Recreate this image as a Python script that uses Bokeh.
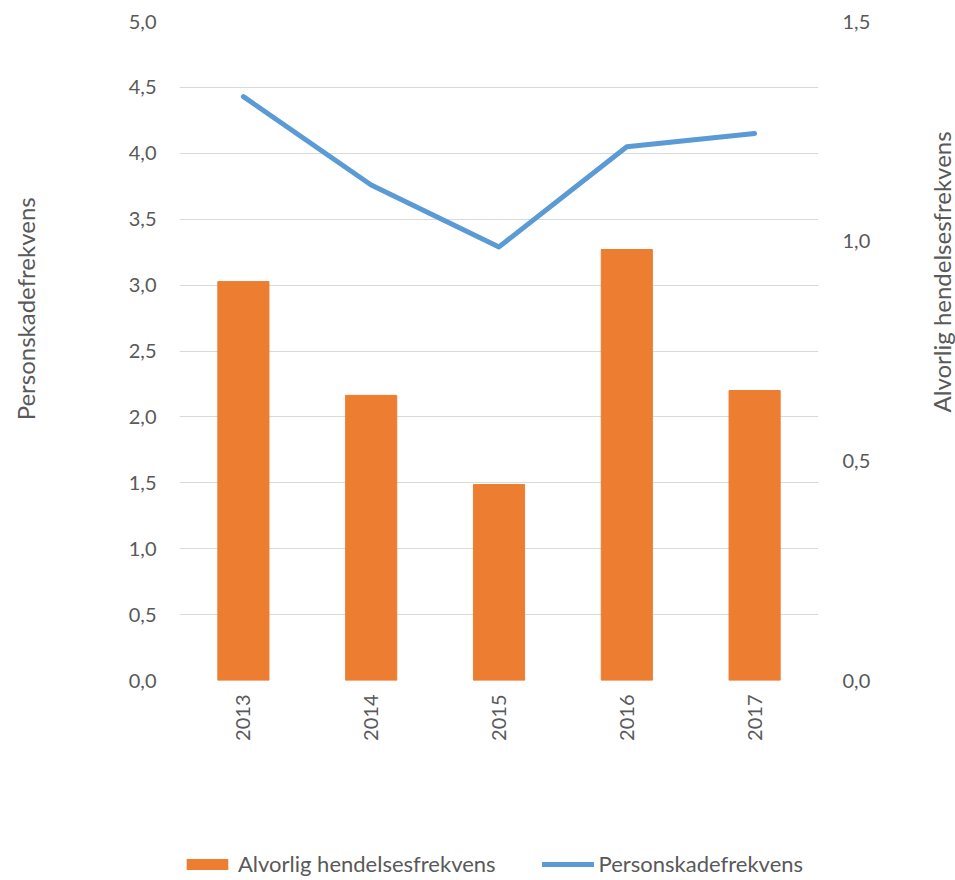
import math
from bokeh.plotting import figure
from bokeh.layouts import column, row
from bokeh.models import (Range1d, FactorRange, LinearAxis, FixedTicker, CustomJSTickFormatter,
                          Legend, LegendItem, Label, ColumnDataSource)
from bokeh.embed import file_html
from bokeh.resources import INLINE

years = ["2013", "2014", "2015", "2016", "2017"]
alvorlig = [0.908, 0.649, 0.446, 0.981, 0.660]        # right axis (bars)
personskade = [4.43, 3.76, 3.29, 4.05, 4.15]          # left axis (line)
left_ticks = [0.0, 0.5, 1.0, 1.5, 2.0, 2.5, 3.0, 3.5, 4.0, 4.5, 5.0]
right_ticks = [0.0, 0.5, 1.0, 1.5]
left_title = "Personskadefrekvens"
right_title = "Alvorlig hendelsesfrekvens"
bar_name = "Alvorlig hendelsesfrekvens"
line_name = "Personskadefrekvens"

FONT = "Lato"
TXT = "#595959"
ORANGE = "#ED7D31"
BLUE = "#5B9BD5"

src = ColumnDataSource(dict(year=years, alvorlig=alvorlig, personskade=personskade))

p = figure(width=865, height=845, x_range=FactorRange(*years, range_padding=0),
           y_range=Range1d(0, 5), output_backend="svg", toolbar_location=None,
           min_border_left=129, min_border_right=97, min_border_top=21, min_border_bottom=165)
p.extra_y_ranges = {"right": Range1d(0, 1.5)}
p.outline_line_color = None
p.background_fill_color = "white"
p.border_fill_color = "white"

fmt = CustomJSTickFormatter(code="return tick.toFixed(1).replace('.', ',');")

p.yaxis.ticker = FixedTicker(ticks=left_ticks)
p.yaxis.formatter = fmt
raxis = LinearAxis(y_range_name="right", ticker=FixedTicker(ticks=right_ticks), formatter=fmt)
p.add_layout(raxis, "right")

for ax in [p.yaxis[0], raxis, p.xaxis[0]]:
    ax.axis_line_color = None
    ax.major_tick_line_color = None
    ax.minor_tick_line_color = None
    ax.major_tick_out = 0
    ax.major_tick_in = 0
    ax.minor_tick_out = 0
    ax.minor_tick_in = 0
    ax.major_label_text_font = FONT
    ax.major_label_text_font_size = "20px"
    ax.major_label_text_color = TXT
p.yaxis[0].major_label_standoff = 23
raxis.major_label_standoff = 24
p.xaxis[0].major_label_orientation = math.pi / 2
p.xaxis[0].major_label_standoff = 14

p.xgrid.grid_line_color = None
p.ygrid.grid_line_color = "#D9D9D9"
p.ygrid.grid_line_width = 1

bars = p.vbar(x="year", top="alvorlig", width=0.4, source=src, y_range_name="right",
              fill_color=ORANGE, line_color=ORANGE)
line = p.line(x="year", y="personskade", source=src, line_color=BLUE, line_width=5,
              line_cap="round", line_join="round")


def side_strip(width, title, x, y):
    f = figure(width=width, height=845, x_range=Range1d(0, width), y_range=Range1d(0, 5),
               output_backend="svg", toolbar_location=None, min_border_left=0,
               min_border_right=0, min_border_top=21, min_border_bottom=165)
    f.axis.visible = False
    f.grid.grid_line_color = None
    f.outline_line_color = None
    f.add_layout(Label(x=x, y=y, text=title, angle=math.pi / 2, text_align="center",
                       text_baseline="middle", text_font=FONT, text_font_size="24px",
                       text_color=TXT))
    return f


ltf = side_strip(50, left_title, 25, 2.82)
rtf = side_strip(40, right_title, 26, 3.10)

# legend strip below the chart (its glyphs lie below its visible range)
lf = figure(width=865, height=35, x_range=FactorRange(*years, range_padding=0),
            y_range=Range1d(20, 21), output_backend="svg", toolbar_location=None, min_border=0)
lf.axis.visible = False
lf.grid.grid_line_color = None
lf.outline_line_color = None
lf.background_fill_color = "white"
lb = lf.vbar(x="year", top="alvorlig", width=0.4, source=src, fill_color=ORANGE, line_color=None)
ll = lf.line(x="year", y="personskade", source=src, line_color=BLUE, line_width=5,
             line_cap="round")
legend = Legend(items=[LegendItem(label=bar_name, renderers=[lb]),
                       LegendItem(label=line_name, renderers=[ll])],
                orientation="horizontal", location=(2, 3), padding=0, margin=0,
                spacing=46, label_standoff=5, glyph_width=52, glyph_height=14,
                label_text_font=FONT, label_text_font_size="22px", label_text_color=TXT,
                border_line_color=None, background_fill_alpha=0)
lf.add_layout(legend, "center")

layout = row(ltf, column(p, lf, spacing=0), rtf, spacing=0)
open("out.html", "w").write(file_html(layout, INLINE))
